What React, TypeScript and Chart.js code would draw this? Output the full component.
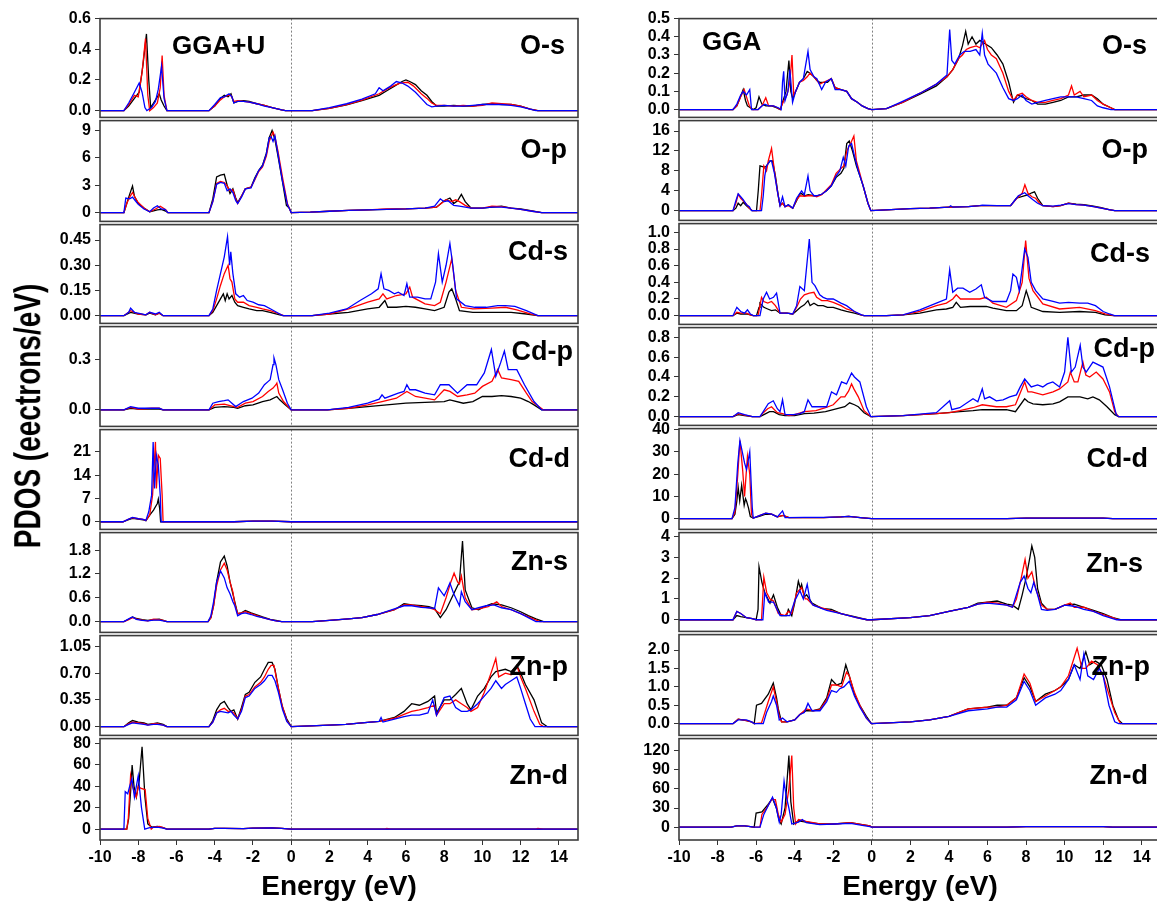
import React, { useEffect, useRef } from "react";
import { Chart, registerables } from "chart.js";
Chart.register(...registerables);

type P = [number, number];
const FONT = "'Liberation Sans', Arial, Helvetica, sans-serif";

const energyTicks = [-10, -8, -6, -4, -2, 0, 2, 4, 6, 8, 10, 12, 14];
const orbitals = ["O-s", "O-p", "Cd-s", "Cd-p", "Cd-d", "Zn-s", "Zn-p", "Zn-d"];
const methods = ["GGA+U", "GGA"];

// ---------------- y tick labels ----------------
const L_ticks = [
  [0, 0.2, 0.4, 0.6],
  [0, 3, 6, 9],
  [0, 0.15, 0.3, 0.45],
  [0, 0.3],
  [0, 7, 14, 21],
  [0, 0.6, 1.2, 1.8],
  [0, 0.35, 0.7, 1.05],
  [0, 20, 40, 60, 80],
];
const L_dec = [1, 0, 2, 1, 0, 1, 2, 0];
const R_ticks = [
  [0, 0.1, 0.2, 0.3, 0.4, 0.5],
  [0, 4, 8, 12, 16],
  [0, 0.2, 0.4, 0.6, 0.8, 1.0],
  [0, 0.2, 0.4, 0.6, 0.8],
  [0, 10, 20, 30, 40],
  [0, 1, 2, 3, 4],
  [0, 0.5, 1.0, 1.5, 2.0],
  [0, 30, 60, 90, 120],
];
const R_dec = [1, 0, 1, 1, 0, 0, 1, 0];

// ---------------- GGA+U (left) ----------------
const L_Os_k: P[] = [[-10,0],[-8.75,0],[-8.5,0.03],[-8.2,0.08],[-7.95,0.12],[-7.75,0.3],[-7.57,0.5],[-7.45,0.2],[-7.35,0.02],[-7.2,0.05],[-7.0,0.09],[-6.9,0.11],[-6.8,0.07],[-6.65,0.03],[-6.5,0],[-4.3,0],[-4.0,0.03],[-3.7,0.08],[-3.5,0.1],[-3.3,0.09],[-3.15,0.11],[-3.0,0.05],[-2.8,0.06],[-2.5,0.065],[-2.2,0.06],[-1.8,0.045],[-1.4,0.035],[-1.0,0.02],[-0.5,0.005],[-0.3,0],[1.1,0],[2.0,0.015],[2.9,0.038],[3.7,0.065],[4.6,0.1],[5.0,0.13],[5.4,0.16],[5.8,0.19],[6.0,0.2],[6.2,0.19],[6.5,0.17],[6.8,0.13],[7.1,0.1],[7.35,0.06],[7.6,0.03],[8.0,0.03],[8.5,0.035],[9.0,0.03],[9.5,0.03],[10.0,0.04],[10.6,0.045],[11.0,0.04],[11.5,0.04],[12.0,0.03],[12.5,0.01],[12.9,0],[15,0]];
const L_Os_r: P[] = [[-10,0],[-8.75,0],[-8.5,0.04],[-8.2,0.1],[-8.0,0.09],[-7.8,0.25],[-7.62,0.47],[-7.5,0.1],[-7.4,0],[-7.2,0.02],[-7.0,0.05],[-6.85,0.15],[-6.75,0.36],[-6.65,0.1],[-6.5,0],[-4.3,0],[-4.0,0.03],[-3.7,0.07],[-3.5,0.09],[-3.3,0.1],[-3.15,0.1],[-3.0,0.06],[-2.8,0.065],[-2.5,0.06],[-2.2,0.055],[-1.8,0.045],[-1.4,0.035],[-1.0,0.02],[-0.5,0.005],[-0.3,0],[1.1,0],[2.0,0.015],[2.9,0.04],[3.7,0.068],[4.6,0.11],[5.0,0.14],[5.4,0.165],[5.7,0.18],[6.1,0.185],[6.4,0.16],[6.8,0.11],[7.1,0.08],[7.35,0.05],[7.6,0.035],[8.0,0.035],[8.5,0.03],[9.0,0.035],[9.5,0.03],[10.0,0.035],[10.5,0.05],[11.0,0.045],[11.5,0.04],[12.0,0.03],[12.5,0.01],[12.9,0],[15,0]];
const L_Os_b: P[] = [[-10,0],[-8.75,0],[-8.5,0.05],[-8.2,0.12],[-7.95,0.18],[-7.8,0.12],[-7.65,0.02],[-7.55,0],[-7.3,0.02],[-7.1,0.06],[-6.95,0.14],[-6.78,0.29],[-6.65,0.08],[-6.5,0],[-4.3,0],[-4.0,0.04],[-3.7,0.085],[-3.5,0.09],[-3.25,0.11],[-3.1,0.09],[-3.0,0.05],[-2.8,0.06],[-2.5,0.06],[-2.2,0.055],[-1.8,0.045],[-1.4,0.03],[-1.0,0.02],[-0.5,0.005],[-0.3,0],[1.1,0],[2.0,0.02],[2.9,0.045],[3.7,0.075],[4.4,0.11],[4.6,0.15],[4.8,0.13],[5.2,0.16],[5.5,0.19],[5.8,0.18],[6.1,0.16],[6.5,0.12],[6.8,0.08],[7.1,0.04],[7.35,0.025],[7.6,0.03],[8.0,0.035],[8.5,0.03],[9.0,0.03],[9.5,0.035],[10.0,0.04],[10.5,0.04],[11.0,0.04],[11.5,0.035],[12.0,0.025],[12.5,0.01],[12.8,0],[15,0]];

const L_Op_k: P[] = [[-10,0],[-8.75,0],[-8.6,1.0],[-8.45,2.0],[-8.3,2.9],[-8.2,1.8],[-8.0,1.0],[-7.7,0.5],[-7.4,0.1],[-7.2,0.2],[-7.0,0.3],[-6.8,0.35],[-6.6,0.2],[-6.45,0],[-4.3,0],[-4.1,1.5],[-3.9,3.9],[-3.7,4.1],[-3.5,4.2],[-3.35,3.0],[-3.2,2.1],[-3.05,2.6],[-2.9,1.6],[-2.8,1.1],[-2.6,1.8],[-2.4,2.6],[-2.1,2.8],[-1.9,3.8],[-1.7,4.6],[-1.5,5.2],[-1.3,6.5],[-1.15,8.2],[-1.0,9.0],[-0.85,8.0],[-0.7,6.3],[-0.45,3.3],[-0.25,0.8],[-0.1,0.5],[0,0],[1,0.05],[2,0.15],[3,0.25],[4,0.3],[5,0.35],[6,0.4],[7,0.5],[7.6,0.6],[8.0,1.3],[8.3,1.6],[8.5,1.0],[8.7,1.3],[8.9,2.0],[9.1,1.2],[9.4,0.5],[10.0,0.5],[10.5,0.6],[11.0,0.7],[11.5,0.5],[12.0,0.4],[12.6,0.2],[13.1,0],[15,0]];
const L_Op_r: P[] = [[-10,0],[-8.75,0],[-8.6,1.0],[-8.45,1.7],[-8.3,2.2],[-8.15,1.6],[-8.0,1.1],[-7.7,0.5],[-7.4,0.1],[-7.1,0.4],[-6.85,0.7],[-6.7,0.5],[-6.55,0.3],[-6.45,0],[-4.3,0],[-4.1,1.2],[-3.9,3.2],[-3.7,3.4],[-3.5,3.3],[-3.35,2.9],[-3.2,2.4],[-3.05,2.5],[-2.9,1.5],[-2.8,1.0],[-2.6,1.8],[-2.4,2.6],[-2.1,2.8],[-1.9,3.6],[-1.7,4.5],[-1.5,5.0],[-1.3,6.2],[-1.15,7.8],[-0.95,8.8],[-0.85,8.3],[-0.7,6.8],[-0.45,3.8],[-0.2,1.0],[0,0],[1,0.05],[2,0.15],[3,0.25],[4,0.3],[5,0.4],[6,0.4],[7,0.5],[7.6,0.6],[8.1,1.4],[8.4,1.2],[8.6,1.4],[8.8,1.2],[9.1,0.8],[9.4,0.5],[10.0,0.5],[10.5,0.7],[11.0,0.65],[11.5,0.5],[12.0,0.35],[12.6,0.15],[13.1,0],[15,0]];
const L_Op_b: P[] = [[-10,0],[-8.75,0],[-8.65,1.6],[-8.45,1.5],[-8.3,1.7],[-8.15,1.3],[-8.0,0.9],[-7.7,0.4],[-7.4,0.1],[-7.2,0.5],[-7.0,0.75],[-6.8,0.4],[-6.6,0.35],[-6.45,0],[-4.3,0],[-4.1,1.2],[-3.9,3.1],[-3.7,3.3],[-3.5,3.2],[-3.35,2.4],[-3.2,2.6],[-3.05,2.2],[-2.9,1.3],[-2.8,1.0],[-2.6,1.7],[-2.4,2.6],[-2.1,2.7],[-1.9,3.7],[-1.7,4.6],[-1.5,5.1],[-1.3,6.4],[-1.15,8.2],[-1.05,8.3],[-0.95,7.8],[-0.85,8.4],[-0.7,6.5],[-0.45,3.4],[-0.2,0.9],[0,0],[1,0.05],[2,0.15],[3,0.25],[4,0.3],[5,0.35],[6,0.4],[7,0.5],[7.5,0.7],[7.8,1.5],[8.0,1.2],[8.2,1.3],[8.5,0.8],[8.8,0.7],[9.1,0.6],[9.4,0.5],[10.0,0.5],[10.5,0.6],[11.0,0.6],[11.5,0.5],[12.0,0.35],[12.6,0.15],[13.1,0],[15,0]];

const L_Cds_k: P[] = [[-10,0],[-8.75,0],[-8.4,0.02],[-8.0,0.01],[-7.6,0.005],[-7.4,0.015],[-7.1,0.005],[-6.9,0.015],[-6.7,0],[-4.3,0],[-4.1,0.02],[-3.9,0.06],[-3.7,0.1],[-3.55,0.13],[-3.45,0.09],[-3.35,0.13],[-3.25,0.1],[-3.1,0.12],[-2.95,0.08],[-2.8,0.06],[-2.5,0.05],[-2.2,0.04],[-1.8,0.03],[-1.5,0.03],[-1.1,0.02],[-0.6,0.005],[-0.4,0],[1.1,0],[2,0.01],[3,0.02],[4,0.04],[4.6,0.05],[4.9,0.09],[5.05,0.05],[5.5,0.05],[6.0,0.055],[6.5,0.05],[7.0,0.04],[7.5,0.03],[8.0,0.05],[8.25,0.14],[8.4,0.16],[8.6,0.1],[8.8,0.03],[9.5,0.02],[10.5,0.02],[11.5,0.02],[12.3,0.01],[12.9,0],[15,0]];
const L_Cds_r: P[] = [[-10,0],[-8.75,0],[-8.4,0.03],[-8.0,0.01],[-7.6,0.005],[-7.4,0.02],[-7.1,0.005],[-6.9,0.015],[-6.7,0],[-4.3,0],[-4.1,0.03],[-3.9,0.1],[-3.7,0.18],[-3.5,0.25],[-3.3,0.3],[-3.2,0.22],[-3.1,0.2],[-2.95,0.1],[-2.8,0.08],[-2.5,0.08],[-2.2,0.06],[-1.8,0.05],[-1.5,0.04],[-1.1,0.03],[-0.6,0.01],[-0.4,0],[1.1,0],[2,0.01],[3,0.04],[4,0.08],[4.6,0.1],[4.8,0.13],[5.0,0.1],[5.5,0.12],[6.0,0.13],[6.2,0.17],[6.35,0.11],[7.0,0.07],[7.5,0.06],[7.8,0.08],[8.1,0.2],[8.4,0.34],[8.6,0.15],[8.9,0.05],[9.5,0.04],[10.5,0.045],[11.2,0.05],[11.8,0.035],[12.5,0.01],[12.9,0],[15,0]];
const L_Cds_b: P[] = [[-10,0],[-8.75,0],[-8.5,0.02],[-8.4,0.045],[-8.2,0.02],[-7.6,0.005],[-7.4,0.02],[-7.1,0.01],[-6.9,0.02],[-6.7,0],[-4.3,0],[-4.1,0.04],[-3.9,0.15],[-3.7,0.25],[-3.5,0.35],[-3.33,0.47],[-3.22,0.3],[-3.16,0.38],[-3.05,0.25],[-2.9,0.13],[-2.7,0.11],[-2.5,0.12],[-2.3,0.09],[-2.0,0.08],[-1.7,0.065],[-1.4,0.06],[-1.0,0.035],[-0.6,0.01],[-0.45,0],[1.1,0],[2,0.015],[2.9,0.04],[3.6,0.09],[4.2,0.13],[4.55,0.16],[4.7,0.25],[4.85,0.16],[5.1,0.15],[5.4,0.13],[5.6,0.14],[5.9,0.12],[6.05,0.19],[6.2,0.11],[6.6,0.11],[7.0,0.1],[7.3,0.1],[7.55,0.2],[7.7,0.37],[7.9,0.2],[8.1,0.3],[8.3,0.43],[8.45,0.3],[8.65,0.1],[9.1,0.06],[9.6,0.05],[10.2,0.05],[10.8,0.06],[11.2,0.06],[11.7,0.055],[12.3,0.03],[12.9,0],[15,0]];

const L_Cdp_k: P[] = [[-10,0],[-8.75,0],[-8.4,0.01],[-8.0,0.005],[-7.3,0.005],[-6.9,0.005],[-6.7,0],[-4.3,0],[-4.0,0.015],[-3.5,0.02],[-3.0,0.015],[-2.8,0.01],[-2.4,0.025],[-2.0,0.03],[-1.5,0.05],[-1.1,0.06],[-0.75,0.08],[-0.6,0.06],[-0.3,0.03],[0,0],[1.9,0],[3,0.01],[4,0.02],[5,0.03],[6,0.04],[7,0.045],[8,0.05],[8.3,0.06],[9,0.04],[9.5,0.05],[10,0.08],[10.5,0.08],[11,0.085],[11.5,0.08],[12,0.07],[12.4,0.05],[12.7,0.03],[13.1,0],[15,0]];
const L_Cdp_r: P[] = [[-10,0],[-8.75,0],[-8.4,0.015],[-8.0,0.005],[-7.3,0.01],[-6.9,0.01],[-6.7,0],[-4.3,0],[-4.0,0.03],[-3.5,0.035],[-3.0,0.02],[-2.8,0.015],[-2.4,0.04],[-2.0,0.05],[-1.5,0.08],[-1.2,0.11],[-0.95,0.13],[-0.8,0.15],[-0.75,0.16],[-0.65,0.1],[-0.4,0.05],[0,0],[1.9,0],[3,0.01],[4,0.03],[4.75,0.05],[5.5,0.07],[6.05,0.11],[6.5,0.08],[7.5,0.06],[8.0,0.12],[8.3,0.11],[8.7,0.08],[9.2,0.09],[9.6,0.1],[10.0,0.14],[10.5,0.17],[10.8,0.24],[11.0,0.19],[11.5,0.18],[11.9,0.17],[12.3,0.1],[12.6,0.05],[13.2,0],[15,0]];
const L_Cdp_b: P[] = [[-10,0],[-8.75,0],[-8.4,0.02],[-8.0,0.01],[-7.3,0.01],[-6.9,0.01],[-6.7,0],[-4.3,0],[-4.1,0.04],[-3.8,0.05],[-3.5,0.055],[-3.3,0.06],[-3.1,0.04],[-2.9,0.02],[-2.5,0.05],[-2.05,0.07],[-1.7,0.1],[-1.4,0.15],[-1.2,0.17],[-1.1,0.18],[-0.95,0.27],[-0.9,0.31],[-0.8,0.27],[-0.65,0.18],[-0.45,0.12],[-0.2,0.04],[0,0],[1.9,0],[3,0.015],[4,0.04],[4.6,0.064],[4.75,0.09],[4.9,0.07],[5.6,0.1],[5.9,0.11],[6.05,0.15],[6.2,0.12],[6.5,0.12],[7.0,0.1],[7.5,0.09],[7.8,0.15],[8.25,0.15],[8.7,0.1],[9.2,0.15],[9.7,0.15],[10.1,0.22],[10.47,0.36],[10.7,0.2],[10.95,0.28],[11.15,0.35],[11.35,0.24],[11.8,0.24],[12.2,0.15],[12.7,0.05],[13.1,0],[15,0]];

const L_Cdd_k: P[] = [[-10,0],[-8.8,0],[-8.5,0.6],[-8.3,1.0],[-8.0,0.8],[-7.75,0.6],[-7.6,0.3],[-7.4,2.0],[-7.2,3.5],[-7.1,4.5],[-7.0,5.5],[-6.95,6.8],[-6.88,4.0],[-6.83,0],[-3,0],[-2,0.2],[-1,0.2],[0,0],[15,0]];
const L_Cdd_r: P[] = [[-10,0],[-8.8,0],[-8.5,0.8],[-8.3,1.2],[-8.0,0.9],[-7.75,0.7],[-7.6,0.4],[-7.4,2.0],[-7.25,8],[-7.1,24],[-7.05,10],[-7.0,15],[-6.95,20],[-6.85,19],[-6.75,8],[-6.7,0],[-3,0],[-2,0.2],[-1,0.2],[0,0],[15,0]];
const L_Cdd_b: P[] = [[-10,0],[-8.8,0],[-8.5,0.8],[-8.3,1.3],[-8.0,0.9],[-7.75,0.7],[-7.6,0.4],[-7.45,3],[-7.3,8],[-7.22,24],[-7.15,10],[-7.05,20],[-6.95,17],[-6.85,8],[-6.8,0],[-3,0],[-2,0.2],[-1,0.2],[0,0],[15,0]];

const L_Zns_k: P[] = [[-10,0],[-8.75,0],[-8.5,0.06],[-8.3,0.12],[-8.1,0.08],[-7.8,0.05],[-7.5,0.03],[-7.2,0.05],[-6.9,0.06],[-6.7,0.03],[-6.5,0],[-4.35,0],[-4.2,0.1],[-4.06,0.4],[-3.9,1.0],[-3.7,1.5],[-3.5,1.65],[-3.35,1.4],[-3.2,1.0],[-3.05,0.7],[-2.95,0.5],[-2.8,0.2],[-2.6,0.22],[-2.4,0.28],[-2.1,0.22],[-1.8,0.17],[-1.5,0.12],[-1.1,0.06],[-0.8,0.03],[-0.5,0],[1.1,0],[2,0.03],[3,0.07],[3.7,0.1],[4.5,0.18],[5.4,0.3],[5.9,0.45],[6.3,0.42],[6.8,0.4],[7.2,0.38],[7.5,0.33],[7.8,0.1],[8.1,0.3],[8.4,0.6],[8.8,1.0],[8.96,2.03],[9.1,0.8],[9.45,0.35],[9.8,0.3],[10.2,0.4],[10.5,0.45],[11.0,0.42],[11.5,0.35],[12.0,0.25],[12.4,0.15],[12.8,0.07],[13.2,0],[15,0]];
const L_Zns_r: P[] = [[-10,0],[-8.75,0],[-8.5,0.05],[-8.3,0.1],[-8.1,0.07],[-7.8,0.04],[-7.5,0.02],[-7.2,0.06],[-6.9,0.05],[-6.7,0.03],[-6.5,0],[-4.35,0],[-4.2,0.1],[-4.06,0.4],[-3.9,0.9],[-3.7,1.3],[-3.5,1.47],[-3.35,1.3],[-3.2,1.0],[-3.05,0.75],[-2.95,0.45],[-2.8,0.2],[-2.6,0.22],[-2.4,0.25],[-2.1,0.2],[-1.8,0.15],[-1.5,0.1],[-1.1,0.05],[-0.8,0.02],[-0.5,0],[1.1,0],[2,0.03],[3,0.07],[3.7,0.1],[4.5,0.18],[5.4,0.3],[5.9,0.42],[6.3,0.42],[6.8,0.38],[7.2,0.35],[7.5,0.3],[7.8,0.2],[8.1,0.6],[8.35,1.0],[8.52,1.22],[8.7,1.0],[8.8,0.95],[8.9,1.15],[9.1,0.6],[9.45,0.3],[9.8,0.32],[10.3,0.38],[10.75,0.5],[11.0,0.38],[11.5,0.3],[12.0,0.2],[12.5,0.1],[13.0,0],[15,0]];
const L_Zns_b: P[] = [[-10,0],[-8.75,0],[-8.5,0.07],[-8.3,0.12],[-8.1,0.06],[-7.8,0.03],[-7.5,0.02],[-7.2,0.04],[-6.9,0.04],[-6.7,0.02],[-6.5,0],[-4.35,0],[-4.2,0.15],[-4.06,0.5],[-3.9,1.0],[-3.7,1.28],[-3.5,1.1],[-3.35,0.85],[-3.2,0.7],[-3.05,0.5],[-2.95,0.4],[-2.8,0.15],[-2.6,0.2],[-2.4,0.22],[-2.1,0.18],[-1.8,0.13],[-1.5,0.1],[-1.1,0.05],[-0.8,0.02],[-0.5,0],[1.1,0],[2,0.03],[3,0.07],[3.7,0.1],[4.5,0.18],[5.4,0.32],[5.9,0.4],[6.3,0.4],[6.8,0.36],[7.2,0.35],[7.5,0.33],[7.7,0.85],[8.0,0.65],[8.15,0.8],[8.3,0.97],[8.5,0.7],[8.8,0.4],[8.9,0.75],[9.1,0.5],[9.45,0.3],[9.8,0.35],[10.2,0.4],[10.6,0.42],[11.0,0.35],[11.5,0.3],[12.0,0.2],[12.4,0.1],[12.8,0],[15,0]];

const L_Znp_k: P[] = [[-10,0],[-8.75,0],[-8.5,0.05],[-8.3,0.08],[-8.0,0.06],[-7.7,0.05],[-7.5,0.03],[-7.2,0.04],[-7.0,0.05],[-6.7,0.03],[-6.5,0],[-4.3,0],[-4.1,0.08],[-3.9,0.22],[-3.7,0.3],[-3.5,0.33],[-3.3,0.25],[-3.15,0.2],[-3.0,0.22],[-2.8,0.1],[-2.6,0.25],[-2.4,0.42],[-2.2,0.45],[-1.9,0.58],[-1.6,0.65],[-1.4,0.75],[-1.2,0.84],[-1.0,0.84],[-0.85,0.75],[-0.67,0.5],[-0.45,0.25],[-0.23,0.1],[0,0],[1,0.01],[2,0.02],[2.86,0.03],[3.7,0.05],[4.6,0.07],[5.4,0.12],[5.9,0.2],[6.3,0.3],[6.7,0.28],[7.15,0.33],[7.5,0.4],[7.6,0.18],[8.0,0.35],[8.3,0.35],[8.6,0.42],[8.9,0.5],[9.2,0.3],[9.4,0.22],[9.75,0.4],[10.1,0.5],[10.45,0.65],[10.7,0.72],[11.2,0.75],[11.5,0.72],[11.8,0.8],[12.0,0.7],[12.25,0.55],[12.7,0.35],[13.1,0.05],[13.4,0],[15,0]];
const L_Znp_r: P[] = [[-10,0],[-8.75,0],[-8.5,0.04],[-8.3,0.06],[-8.0,0.05],[-7.7,0.04],[-7.5,0.02],[-7.2,0.04],[-7.0,0.04],[-6.7,0.02],[-6.5,0],[-4.3,0],[-4.1,0.06],[-3.9,0.18],[-3.7,0.22],[-3.5,0.24],[-3.3,0.2],[-3.15,0.2],[-3.0,0.18],[-2.8,0.1],[-2.6,0.22],[-2.4,0.4],[-2.2,0.42],[-1.9,0.52],[-1.6,0.58],[-1.4,0.65],[-1.2,0.75],[-1.05,0.8],[-0.9,0.8],[-0.75,0.6],[-0.5,0.3],[-0.23,0.08],[0,0],[1,0.01],[2,0.02],[2.86,0.03],[3.7,0.05],[4.6,0.07],[5.4,0.11],[5.9,0.16],[6.3,0.2],[6.7,0.22],[7.15,0.25],[7.5,0.28],[7.6,0.15],[8.0,0.3],[8.3,0.3],[8.6,0.35],[8.9,0.3],[9.2,0.25],[9.4,0.2],[9.75,0.25],[10.1,0.45],[10.45,0.7],[10.7,0.89],[10.85,0.65],[11.2,0.7],[11.5,0.68],[11.8,0.8],[12.0,0.65],[12.25,0.5],[12.7,0.2],[13.0,0.03],[13.2,0],[15,0]];
const L_Znp_b: P[] = [[-10,0],[-8.75,0],[-8.5,0.03],[-8.3,0.05],[-8.0,0.04],[-7.7,0.03],[-7.5,0.02],[-7.2,0.03],[-7.0,0.03],[-6.7,0.02],[-6.5,0],[-4.3,0],[-4.1,0.06],[-3.9,0.18],[-3.7,0.2],[-3.5,0.19],[-3.3,0.18],[-3.15,0.2],[-3.0,0.15],[-2.8,0.1],[-2.6,0.2],[-2.4,0.38],[-2.2,0.4],[-1.9,0.5],[-1.6,0.55],[-1.4,0.6],[-1.2,0.67],[-1.0,0.67],[-0.85,0.6],[-0.67,0.45],[-0.45,0.22],[-0.23,0.07],[0,0],[1,0.01],[2,0.02],[2.86,0.03],[3.7,0.05],[4.6,0.07],[4.7,0.12],[4.8,0.06],[5.4,0.1],[5.9,0.13],[6.3,0.15],[6.7,0.15],[7.15,0.18],[7.4,0.35],[7.6,0.15],[8.0,0.38],[8.3,0.4],[8.6,0.25],[8.9,0.2],[9.2,0.2],[9.4,0.22],[9.75,0.3],[10.1,0.4],[10.45,0.5],[10.7,0.6],[11.0,0.5],[11.2,0.55],[11.5,0.6],[11.8,0.65],[12.0,0.5],[12.25,0.3],[12.5,0.1],[12.75,0],[15,0]];

const L_Znd_k: P[] = [[-10,0],[-8.6,0],[-8.5,10],[-8.4,35],[-8.32,60],[-8.22,40],[-8.1,30],[-7.95,45],[-7.8,77],[-7.65,30],[-7.5,5],[-7.3,2],[-7.0,2.5],[-6.7,1.5],[-6.5,0],[-4.3,0],[-4.0,0.8],[-3.5,0.8],[-2.5,0.5],[-2,1],[-1,1.2],[-0.5,0.8],[0,0],[15,0]];
const L_Znd_r: P[] = [[-10,0],[-8.6,0],[-8.52,10],[-8.4,50],[-8.3,40],[-8.18,33],[-8.1,30],[-8.0,40],[-7.85,38],[-7.64,37],[-7.5,10],[-7.32,0],[-7.2,2],[-6.9,2.5],[-6.7,1.5],[-6.5,0],[-4.3,0],[-4.0,0.8],[-3.5,0.8],[-2.5,0.5],[-2,1],[-1,1.2],[-0.5,0.8],[0,0],[4.9,0],[5.0,0.8],[5.2,0],[12.8,0],[12.9,0.8],[13.2,0],[15,0]];
const L_Znd_b: P[] = [[-10,0],[-8.75,0],[-8.68,35],[-8.55,33],[-8.45,40],[-8.33,47],[-8.2,30],[-8.1,40],[-8.0,50],[-7.83,20],[-7.66,0],[-7.4,1.5],[-7.0,2],[-6.7,1],[-6.5,0],[-4.3,0],[-4.0,0.8],[-3.5,0.8],[-2.5,0.5],[-2,1],[-1,1.2],[-0.5,0.8],[0,0],[15,0]];

// ---------------- GGA (right) ----------------
const R_Os_k: P[] = [[-10,0],[-7.2,0],[-7.0,0.02],[-6.85,0.06],[-6.67,0.11],[-6.55,0.05],[-6.45,0.02],[-6.3,0.01],[-6.15,0],[-6.0,0.01],[-5.85,0.07],[-5.7,0.03],[-5.5,0.02],[-5.2,0.02],[-4.95,0.01],[-4.75,0],[-4.6,0.05],[-4.45,0.1],[-4.3,0.27],[-4.2,0.1],[-4.1,0.06],[-3.95,0.1],[-3.75,0.15],[-3.55,0.17],[-3.35,0.21],[-3.2,0.2],[-3.0,0.18],[-2.85,0.16],[-2.7,0.15],[-2.5,0.15],[-2.3,0.15],[-2.1,0.17],[-1.9,0.12],[-1.6,0.11],[-1.3,0.1],[-1.05,0.06],[-0.75,0.04],[-0.5,0.02],[-0.2,0.005],[0,0],[0.76,0.005],[1.6,0.04],[2.5,0.085],[3.35,0.13],[3.9,0.18],[4.2,0.22],[4.5,0.28],[4.7,0.35],[4.87,0.43],[5.0,0.36],[5.2,0.4],[5.4,0.36],[5.6,0.38],[5.9,0.36],[6.2,0.34],[6.5,0.3],[6.8,0.25],[7.1,0.15],[7.35,0.04],[7.55,0.08],[7.8,0.07],[8.0,0.06],[8.3,0.05],[8.6,0.03],[9.0,0.03],[9.4,0.04],[9.8,0.05],[10.2,0.07],[10.6,0.07],[11.0,0.08],[11.4,0.08],[11.7,0.06],[12.0,0.03],[12.4,0.01],[12.6,0],[15,0]];
const R_Os_r: P[] = [[-10,0],[-7.2,0],[-7.0,0.02],[-6.8,0.07],[-6.62,0.11],[-6.5,0.07],[-6.35,0.02],[-6.2,0],[-5.9,0],[-5.7,0.02],[-5.5,0.065],[-5.35,0.02],[-5.1,0.02],[-4.9,0.01],[-4.75,0],[-4.6,0.04],[-4.4,0.08],[-4.25,0.15],[-4.14,0.3],[-4.05,0.08],[-3.95,0.1],[-3.75,0.15],[-3.55,0.16],[-3.35,0.18],[-3.21,0.2],[-3.0,0.18],[-2.85,0.16],[-2.7,0.14],[-2.5,0.15],[-2.3,0.16],[-2.1,0.17],[-1.9,0.12],[-1.6,0.11],[-1.3,0.1],[-1.05,0.06],[-0.75,0.04],[-0.5,0.02],[-0.2,0.005],[0,0],[0.76,0.005],[1.6,0.04],[2.5,0.09],[3.35,0.14],[3.9,0.18],[4.2,0.22],[4.5,0.28],[4.7,0.3],[4.9,0.33],[5.1,0.34],[5.42,0.35],[5.6,0.34],[5.85,0.38],[6.0,0.33],[6.2,0.3],[6.46,0.28],[6.8,0.2],[7.1,0.1],[7.35,0.05],[7.55,0.08],[7.8,0.09],[8.0,0.07],[8.3,0.05],[8.6,0.04],[9.0,0.04],[9.4,0.05],[9.8,0.06],[10.2,0.08],[10.36,0.13],[10.5,0.08],[10.8,0.1],[11.0,0.07],[11.4,0.08],[11.7,0.05],[12.0,0.03],[12.4,0.01],[12.6,0],[15,0]];
const R_Os_b: P[] = [[-10,0],[-7.2,0],[-7.0,0.03],[-6.8,0.08],[-6.67,0.1],[-6.5,0.08],[-6.33,0.11],[-6.24,0],[-5.9,0],[-5.7,0.02],[-5.55,0.03],[-5.35,0.02],[-5.1,0.02],[-4.85,0.01],[-4.7,0],[-4.63,0.15],[-4.57,0.21],[-4.5,0.05],[-4.35,0.1],[-4.25,0.22],[-4.11,0.04],[-3.95,0.1],[-3.75,0.15],[-3.55,0.17],[-3.31,0.32],[-3.2,0.22],[-3.0,0.18],[-2.85,0.17],[-2.6,0.11],[-2.4,0.15],[-2.1,0.17],[-1.9,0.11],[-1.6,0.11],[-1.3,0.1],[-1.05,0.06],[-0.75,0.04],[-0.5,0.02],[-0.2,0.005],[0,0],[0.76,0.005],[1.6,0.045],[2.5,0.09],[3.35,0.14],[3.9,0.19],[4.04,0.44],[4.15,0.27],[4.3,0.25],[4.56,0.3],[4.8,0.32],[5.1,0.32],[5.4,0.33],[5.6,0.3],[5.73,0.42],[5.85,0.3],[6.03,0.25],[6.46,0.2],[6.8,0.12],[7.1,0.06],[7.35,0.05],[7.55,0.06],[7.8,0.08],[8.0,0.05],[8.3,0.03],[8.6,0.04],[9.0,0.05],[9.4,0.06],[9.8,0.07],[10.2,0.07],[10.6,0.07],[11.0,0.06],[11.4,0.05],[11.7,0.02],[12.0,0.01],[12.4,0],[15,0]];

const R_Op_k: P[] = [[-10,0],[-7.2,0],[-7.05,0.5],[-6.93,1.5],[-6.8,1.0],[-6.67,1.7],[-6.5,1.0],[-6.35,0.5],[-6.2,0],[-5.98,0],[-5.89,4],[-5.8,9],[-5.63,8.8],[-5.5,8.8],[-5.28,10],[-5.15,10],[-5.0,7],[-4.85,3],[-4.76,1],[-4.63,1.5],[-4.5,0.8],[-4.33,1.2],[-4.1,0.5],[-3.9,2],[-3.73,3.4],[-3.64,3.4],[-3.5,3.0],[-3.3,3.2],[-3.0,3.0],[-2.86,3.0],[-2.6,3.3],[-2.35,4.0],[-2.1,5.0],[-1.85,6.7],[-1.6,7.5],[-1.45,8.5],[-1.3,13.5],[-1.17,14],[-1.0,12],[-0.8,9],[-0.62,7],[-0.45,5],[-0.2,1.5],[-0.05,0],[1,0.2],[2,0.4],[3,0.5],[4,0.7],[5,0.8],[5.6,1.0],[6.5,1.0],[7.2,1.0],[7.5,2.5],[7.9,3.0],[8.1,3.2],[8.3,3.6],[8.44,3.8],[8.6,2.5],[8.87,1.0],[9.4,0.8],[9.8,1.0],[10.2,1.5],[10.6,1.3],[11.0,1.2],[11.5,0.9],[11.9,0.6],[12.3,0.2],[12.6,0],[15,0]];
const R_Op_r: P[] = [[-10,0],[-7.2,0],[-7.05,1.5],[-6.93,3.3],[-6.8,2.5],[-6.67,2.0],[-6.5,1.3],[-6.35,0.5],[-6.2,0],[-5.8,0],[-5.72,3],[-5.6,9],[-5.46,8],[-5.37,10],[-5.2,12.5],[-5.05,8],[-4.9,4],[-4.76,1],[-4.63,1.5],[-4.5,0.8],[-4.33,1.0],[-4.1,0.5],[-3.9,2.2],[-3.73,3.0],[-3.5,2.9],[-3.31,3.0],[-3.0,3.0],[-2.86,2.8],[-2.6,3.2],[-2.35,4.2],[-2.1,5.2],[-1.85,7.5],[-1.6,8.5],[-1.45,9.0],[-1.3,12],[-1.1,13.5],[-0.93,15],[-0.8,10],[-0.62,7.5],[-0.45,5],[-0.2,1.5],[-0.05,0],[1,0.2],[2,0.4],[3,0.5],[4,0.7],[5,0.8],[5.6,1.0],[6.5,1.0],[7.2,1.0],[7.5,2.4],[7.8,3.5],[7.94,5.2],[8.1,3.5],[8.3,2.8],[8.5,2.5],[8.7,1.5],[8.87,1.0],[9.4,0.8],[9.8,1.0],[10.2,1.5],[10.6,1.2],[11.0,1.1],[11.5,0.8],[11.9,0.5],[12.3,0.2],[12.6,0],[15,0]];
const R_Op_b: P[] = [[-10,0],[-7.2,0],[-7.05,2],[-6.93,3.4],[-6.8,2.8],[-6.67,2.2],[-6.5,1.2],[-6.35,0.8],[-6.24,0],[-5.72,0],[-5.63,3],[-5.55,7],[-5.46,9],[-5.28,10],[-5.2,10],[-5.05,7.5],[-4.9,4],[-4.76,1],[-4.63,2.8],[-4.5,0.8],[-4.33,1.2],[-4.1,0.5],[-3.9,2.5],[-3.73,3.5],[-3.64,4.0],[-3.5,3.2],[-3.31,7.0],[-3.2,4.0],[-3.0,3.0],[-2.86,3.0],[-2.6,3.3],[-2.35,4.0],[-2.1,5.0],[-1.85,7.0],[-1.66,8.0],[-1.48,10.7],[-1.35,9],[-1.2,13],[-1.05,13.5],[-0.9,11],[-0.7,8],[-0.45,5],[-0.2,1.5],[-0.05,0],[1,0.2],[2,0.4],[3,0.5],[4.0,0.7],[4.09,1.0],[4.2,0.7],[5,0.8],[5.6,1.0],[5.73,1.1],[6.5,1.0],[7.2,1.0],[7.4,2.0],[7.6,3.0],[7.93,3.6],[8.1,3.0],[8.36,2.2],[8.6,1.5],[8.87,1.0],[9.4,0.9],[9.8,1.1],[10.2,1.4],[10.6,1.2],[11.0,1.1],[11.5,0.8],[11.9,0.5],[12.3,0.2],[12.6,0],[15,0]];

const R_Cds_k: P[] = [[-10,0],[-7.2,0],[-7.0,0.03],[-6.8,0.02],[-6.5,0.02],[-6.3,0.01],[-6.15,0],[-5.98,0],[-5.85,0.1],[-5.8,0.15],[-5.6,0.1],[-5.4,0.08],[-5.2,0.06],[-5.0,0.07],[-4.76,0.03],[-4.4,0.03],[-4.1,0.02],[-3.9,0.06],[-3.7,0.1],[-3.5,0.13],[-3.31,0.18],[-3.2,0.12],[-3.0,0.15],[-2.8,0.12],[-2.52,0.12],[-2.3,0.1],[-2.0,0.1],[-1.6,0.07],[-1.31,0.05],[-0.9,0.03],[-0.53,0.005],[-0.4,0],[0.76,0],[1.62,0.01],[2.49,0.03],[3.35,0.07],[3.87,0.08],[4.2,0.1],[4.38,0.16],[4.6,0.1],[5.1,0.11],[5.6,0.11],[5.94,0.11],[6.28,0.09],[6.98,0.06],[7.5,0.06],[7.8,0.12],[8.01,0.3],[8.15,0.2],[8.27,0.1],[8.87,0.05],[9.74,0.04],[10.78,0.05],[11.6,0.04],[12.1,0.01],[12.55,0],[15,0]];
const R_Cds_r: P[] = [[-10,0],[-7.2,0],[-7.0,0.04],[-6.8,0.03],[-6.5,0.03],[-6.3,0.01],[-6.15,0],[-5.9,0],[-5.72,0.22],[-5.6,0.17],[-5.4,0.15],[-5.2,0.17],[-5.0,0.12],[-4.76,0.03],[-4.4,0.03],[-4.1,0.02],[-3.9,0.1],[-3.7,0.2],[-3.5,0.25],[-3.24,0.27],[-3.0,0.28],[-2.86,0.22],[-2.6,0.18],[-2.3,0.18],[-2.0,0.16],[-1.6,0.12],[-1.31,0.08],[-0.9,0.05],[-0.53,0.005],[-0.4,0],[0.76,0],[1.62,0.01],[2.49,0.05],[3.35,0.12],[3.87,0.15],[4.2,0.2],[4.38,0.25],[4.6,0.2],[5.1,0.2],[5.6,0.2],[5.94,0.22],[6.28,0.15],[6.98,0.1],[7.5,0.18],[7.8,0.4],[7.98,0.9],[8.15,0.45],[8.36,0.3],[8.87,0.14],[9.74,0.08],[10.78,0.1],[11.6,0.06],[12.1,0.02],[12.55,0],[15,0]];
const R_Cds_b: P[] = [[-10,0],[-7.2,0],[-7.0,0.1],[-6.8,0.05],[-6.6,0.03],[-6.45,0.07],[-6.3,0.02],[-6.15,0],[-5.8,0],[-5.63,0.2],[-5.46,0.28],[-5.3,0.2],[-5.1,0.22],[-4.94,0.27],[-4.76,0.03],[-4.4,0.03],[-4.1,0.02],[-3.9,0.12],[-3.73,0.35],[-3.5,0.3],[-3.24,0.92],[-3.1,0.4],[-2.95,0.36],[-2.7,0.25],[-2.52,0.22],[-2.3,0.2],[-2.0,0.2],[-1.6,0.15],[-1.31,0.12],[-0.9,0.05],[-0.53,0.01],[-0.4,0],[0.76,0],[1.62,0.01],[2.49,0.07],[3.35,0.15],[3.87,0.2],[4.04,0.55],[4.2,0.28],[4.45,0.33],[4.73,0.33],[5.08,0.28],[5.4,0.32],[5.68,0.37],[5.85,0.22],[6.28,0.17],[6.98,0.17],[7.2,0.3],[7.32,0.5],[7.5,0.46],[7.65,0.3],[7.93,0.8],[8.1,0.7],[8.27,0.4],[8.5,0.3],[8.87,0.2],[9.4,0.17],[9.74,0.15],[10.2,0.16],[10.78,0.15],[11.2,0.15],[11.6,0.12],[12.0,0.05],[12.33,0.02],[12.59,0],[15,0]];

const R_Cdp_k: P[] = [[-10,0],[-7.2,0],[-6.93,0.02],[-6.6,0.01],[-6.2,0],[-5.8,0],[-5.6,0.02],[-5.3,0.05],[-5.1,0.05],[-4.8,0.02],[-4.5,0.01],[-4.0,0.01],[-3.5,0.03],[-3.0,0.035],[-2.4,0.05],[-2.0,0.07],[-1.8,0.08],[-1.4,0.1],[-1.15,0.14],[-0.9,0.12],[-0.7,0.1],[-0.4,0.04],[-0.05,0],[1.62,0.01],[3.35,0.03],[4.56,0.05],[5.25,0.06],[5.73,0.07],[6.46,0.07],[6.98,0.07],[7.45,0.05],[7.93,0.18],[8.1,0.15],[8.36,0.13],[8.87,0.12],[9.4,0.13],[9.74,0.15],[10.17,0.2],[10.5,0.2],[10.8,0.2],[11.2,0.18],[11.47,0.2],[11.8,0.17],[12.2,0.1],[12.6,0.02],[12.8,0],[15,0]];
const R_Cdp_r: P[] = [[-10,0],[-7.2,0],[-6.93,0.03],[-6.6,0.015],[-6.2,0],[-5.8,0],[-5.63,0.04],[-5.4,0.08],[-5.2,0.1],[-4.9,0.04],[-4.63,0.03],[-4.3,0.01],[-4.0,0.02],[-3.5,0.05],[-2.9,0.06],[-2.4,0.09],[-2.0,0.12],[-1.6,0.2],[-1.4,0.2],[-1.2,0.26],[-1.05,0.33],[-0.93,0.28],[-0.7,0.2],[-0.4,0.06],[-0.05,0],[1.62,0.01],[3.35,0.03],[4.04,0.04],[4.56,0.06],[5.25,0.09],[5.73,0.12],[6.46,0.1],[6.98,0.1],[7.45,0.12],[7.93,0.35],[8.1,0.25],[8.3,0.25],[8.87,0.22],[9.4,0.25],[9.74,0.28],[10.17,0.35],[10.3,0.45],[10.5,0.35],[10.69,0.35],[10.95,0.55],[11.1,0.42],[11.3,0.4],[11.64,0.45],[11.99,0.38],[12.33,0.25],[12.6,0.05],[12.8,0],[15,0]];
const R_Cdp_b: P[] = [[-10,0],[-7.2,0],[-6.93,0.04],[-6.6,0.02],[-6.2,0],[-5.8,0],[-5.63,0.05],[-5.37,0.13],[-5.11,0.16],[-4.9,0.08],[-4.76,0.05],[-4.63,0.17],[-4.5,0.02],[-4.07,0.02],[-3.73,0.03],[-3.5,0.05],[-3.31,0.17],[-3.1,0.1],[-2.86,0.1],[-2.34,0.1],[-2.09,0.25],[-1.83,0.22],[-1.57,0.35],[-1.31,0.33],[-1.05,0.44],[-0.9,0.4],[-0.62,0.35],[-0.28,0.1],[-0.05,0],[1.62,0.01],[3.35,0.04],[4.04,0.16],[4.15,0.07],[4.56,0.09],[5.25,0.18],[5.5,0.15],[5.73,0.28],[5.85,0.18],[6.11,0.2],[6.46,0.16],[6.81,0.17],[7.15,0.2],[7.5,0.22],[7.7,0.3],[7.93,0.38],[8.27,0.3],[8.6,0.32],[8.87,0.3],[9.1,0.33],[9.39,0.35],[9.74,0.3],[10.0,0.45],[10.17,0.8],[10.35,0.45],[10.55,0.5],[10.81,0.72],[10.95,0.5],[11.12,0.45],[11.47,0.55],[11.99,0.5],[12.33,0.3],[12.68,0.02],[12.8,0],[15,0]];

const R_Cdd_k: P[] = [[-10,0],[-7.25,0],[-7.1,2],[-7.0,8],[-6.93,14],[-6.85,8],[-6.75,15],[-6.62,6],[-6.55,9],[-6.5,8],[-6.4,5],[-6.3,1],[-6.15,0.3],[-5.8,1.2],[-5.5,2.0],[-5.2,2.0],[-4.9,0.8],[-4.6,1.5],[-4.3,0.5],[-3.5,0.5],[-2.5,0.5],[-1.6,0.8],[-1.2,1.0],[-0.6,0.5],[0,0],[7,0],[8,0.3],[10,0.3],[12,0.3],[12.5,0],[15,0]];
const R_Cdd_r: P[] = [[-10,0],[-7.25,0],[-7.1,3],[-6.95,20],[-6.84,35],[-6.7,22],[-6.6,10],[-6.5,22],[-6.45,28],[-6.33,20],[-6.24,2],[-6.15,0.3],[-5.8,1.5],[-5.5,2.5],[-5.2,2.0],[-4.9,0.8],[-4.6,1.5],[-4.3,0.5],[-3.5,0.5],[-2.5,0.5],[-1.6,0.8],[-1.2,1.0],[-0.6,0.5],[0,0],[7,0],[8,0.3],[10,0.3],[12,0.3],[12.5,0],[15,0]];
const R_Cdd_b: P[] = [[-10,0],[-7.25,0],[-7.1,5],[-6.95,25],[-6.84,35],[-6.6,25],[-6.5,22],[-6.33,30],[-6.2,5],[-6.15,0.3],[-5.8,1.5],[-5.5,2.5],[-5.2,2.0],[-4.9,0.8],[-4.63,3.5],[-4.5,0.5],[-3.5,0.6],[-2.5,0.6],[-1.6,0.8],[-1.2,1.0],[-0.6,0.5],[0,0],[7,0],[8,0.3],[10,0.3],[12,0.3],[12.5,0],[15,0]];

const R_Zns_k: P[] = [[-10,0],[-7.2,0],[-7.0,0.2],[-6.8,0.15],[-6.5,0.1],[-6.2,0.05],[-6.0,0],[-5.9,0.5],[-5.85,2.55],[-5.7,1.8],[-5.55,1.3],[-5.28,0.8],[-5.1,1.2],[-4.9,0.6],[-4.7,0.2],[-4.42,0.2],[-4.33,0.5],[-4.15,0.2],[-4.0,0.8],[-3.81,1.85],[-3.7,1.5],[-3.64,1.7],[-3.5,1.1],[-3.38,1.2],[-3.1,0.8],[-2.6,0.55],[-2.1,0.5],[-1.6,0.3],[-0.9,0.15],[-0.25,0],[0,0],[2,0.1],[3,0.2],[4,0.4],[5.0,0.6],[5.5,0.8],[6.0,0.85],[6.5,0.9],[7.0,0.75],[7.3,0.7],[7.6,0.5],[7.8,1.2],[8.0,2.0],[8.2,3.0],[8.3,3.55],[8.45,3.0],[8.6,1.5],[8.8,0.8],[9.1,0.5],[9.5,0.5],[10.0,0.7],[10.5,0.75],[11.0,0.6],[11.5,0.45],[12.0,0.3],[12.5,0.1],[12.9,0],[15,0]];
const R_Zns_r: P[] = [[-10,0],[-7.2,0],[-7.0,0.4],[-6.8,0.3],[-6.5,0.1],[-6.2,0.05],[-6.0,0],[-5.72,0],[-5.6,2.05],[-5.45,1.3],[-5.28,1.0],[-5.1,0.9],[-4.85,0.3],[-4.5,0.2],[-4.33,0.4],[-4.15,0.3],[-3.9,1.3],[-3.64,1.55],[-3.45,1.0],[-3.35,1.0],[-3.04,0.7],[-2.17,0.45],[-1.6,0.3],[-0.8,0.1],[-0.25,0],[0,0],[2,0.1],[3,0.2],[4,0.4],[5.0,0.6],[5.5,0.75],[6.0,0.85],[6.5,0.8],[7.0,0.7],[7.3,0.6],[7.5,1.0],[7.75,2.0],[7.95,2.9],[8.1,2.0],[8.3,2.3],[8.5,1.5],[8.8,0.7],[9.1,0.5],[9.5,0.5],[10.0,0.7],[10.3,0.8],[10.5,0.6],[11.0,0.6],[11.5,0.4],[12.0,0.25],[12.5,0.1],[12.8,0],[15,0]];
const R_Zns_b: P[] = [[-10,0],[-7.2,0],[-7.0,0.4],[-6.8,0.3],[-6.5,0.1],[-6.2,0.05],[-6.0,0],[-5.65,0],[-5.55,1.3],[-5.35,0.85],[-5.1,0.85],[-4.76,0.2],[-4.25,0.2],[-4.0,0.9],[-3.73,1.4],[-3.55,1.0],[-3.35,1.7],[-3.2,0.9],[-3.04,0.7],[-2.34,0.45],[-1.6,0.3],[-0.8,0.1],[-0.25,0],[0,0],[2,0.1],[3,0.2],[4,0.4],[5.0,0.6],[5.5,0.75],[6.0,0.8],[6.5,0.75],[7.0,0.7],[7.3,0.6],[7.5,1.2],[7.7,1.8],[7.9,2.1],[8.1,1.5],[8.25,1.3],[8.4,1.8],[8.6,1.2],[8.8,0.5],[9.1,0.45],[9.5,0.5],[10.0,0.7],[10.5,0.65],[11.0,0.5],[11.5,0.4],[12.0,0.2],[12.5,0.05],[12.7,0],[15,0]];

const R_Znp_k: P[] = [[-10,0],[-7.2,0],[-6.93,0.12],[-6.5,0.08],[-6.24,0.05],[-6.1,0],[-5.98,0.5],[-5.72,0.55],[-5.37,0.8],[-5.11,1.1],[-4.94,0.7],[-4.85,0.4],[-4.68,0.05],[-4.4,0.05],[-4.0,0.1],[-3.73,0.25],[-3.4,0.35],[-3.04,0.35],[-2.69,0.4],[-2.34,0.7],[-2.09,1.2],[-1.83,1.05],[-1.57,1.1],[-1.35,1.6],[-1.17,1.3],[-0.9,0.8],[-0.62,0.5],[-0.28,0.2],[-0.02,0],[2,0.05],[3,0.1],[4,0.2],[5,0.4],[6,0.45],[6.5,0.5],[7,0.5],[7.5,0.7],[7.9,1.25],[8.2,1.0],[8.5,0.6],[9.0,0.8],[9.5,0.9],[9.8,1.0],[10.2,1.2],[10.5,1.6],[10.8,1.5],[11.1,1.95],[11.3,1.6],[11.6,1.7],[11.9,1.6],[12.2,1.2],[12.5,0.5],[12.8,0.1],[13.0,0],[15,0]];
const R_Znp_r: P[] = [[-10,0],[-7.2,0],[-6.93,0.12],[-6.5,0.08],[-6.24,0.05],[-6.1,0],[-5.72,0.02],[-5.55,0.3],[-5.37,0.6],[-5.11,1.0],[-4.94,0.6],[-4.8,0.2],[-4.68,0.05],[-4.4,0.05],[-4.0,0.1],[-3.73,0.25],[-3.4,0.4],[-3.04,0.35],[-2.69,0.38],[-2.34,0.65],[-2.09,1.05],[-1.83,1.05],[-1.57,1.0],[-1.31,1.4],[-1.17,1.3],[-0.9,0.85],[-0.62,0.5],[-0.28,0.15],[-0.02,0],[2,0.05],[3,0.1],[4,0.2],[5,0.4],[6,0.45],[6.5,0.45],[7,0.5],[7.5,0.7],[7.9,1.35],[8.2,1.1],[8.5,0.6],[9.0,0.75],[9.5,0.9],[9.8,1.0],[10.2,1.3],[10.65,2.05],[10.9,1.5],[11.1,1.5],[11.4,1.7],[11.7,1.6],[12.0,1.3],[12.3,0.8],[12.6,0.3],[12.9,0],[15,0]];
const R_Znp_b: P[] = [[-10,0],[-7.2,0],[-6.93,0.1],[-6.5,0.1],[-6.24,0.05],[-6.1,0],[-5.63,0],[-5.46,0.3],[-5.2,0.6],[-5.11,0.75],[-4.94,0.5],[-4.8,0.1],[-4.63,0.15],[-4.4,0.05],[-4.0,0.1],[-3.73,0.25],[-3.5,0.3],[-3.31,0.55],[-3.1,0.35],[-2.69,0.35],[-2.34,0.6],[-2.09,0.9],[-1.83,0.85],[-1.66,0.95],[-1.45,1.0],[-1.17,1.15],[-0.9,0.75],[-0.62,0.45],[-0.28,0.15],[-0.02,0],[2,0.05],[3,0.1],[4,0.2],[5,0.35],[6,0.4],[6.5,0.45],[7,0.45],[7.5,0.65],[7.9,1.15],[8.2,0.9],[8.5,0.5],[9.0,0.7],[9.5,0.8],[9.8,0.9],[10.2,1.2],[10.5,1.6],[10.8,1.2],[11.0,1.9],[11.2,1.3],[11.5,1.2],[11.8,1.5],[12.0,1.3],[12.3,0.5],[12.6,0.05],[12.8,0],[15,0]];

const R_Znd_k: P[] = [[-10,0],[-7.3,0],[-7.0,2],[-6.6,2],[-6.3,1],[-6.1,0],[-6.0,22],[-5.7,24],[-5.4,35],[-5.15,45],[-4.95,30],[-4.8,10],[-4.7,5],[-4.5,30],[-4.3,112],[-4.2,40],[-4.05,5],[-3.8,10],[-3.4,8],[-2.7,5],[-1.95,5],[-1.1,7],[-0.5,4],[-0.1,2],[0,0],[7,0],[8,1],[10,1],[12,1],[12.5,0],[15,0]];
const R_Znd_r: P[] = [[-10,0],[-7.3,0],[-7.0,2],[-6.6,2],[-6.3,1],[-6.1,0],[-5.8,0],[-5.7,20],[-5.45,30],[-5.2,43],[-5.0,43],[-4.85,20],[-4.7,8],[-4.5,20],[-4.3,60],[-4.15,112],[-4.05,30],[-3.95,5],[-3.8,12],[-3.4,9],[-2.7,5],[-1.95,5],[-1.1,7],[-0.5,4],[-0.1,2],[0,0],[7,0],[8,1],[10,1],[12,1],[12.5,0],[15,0]];
const R_Znd_b: P[] = [[-10,0],[-7.3,0],[-7.0,2],[-6.6,2],[-6.3,1],[-6.1,0],[-5.8,0],[-5.6,20],[-5.35,35],[-5.15,47],[-4.95,30],[-4.8,8],[-4.7,20],[-4.55,72],[-4.45,50],[-4.3,30],[-4.15,5],[-3.8,8],[-3.6,12],[-3.4,7],[-2.7,4],[-1.95,5],[-1.1,6],[-0.5,3],[-0.1,1],[0,0],[7,0],[8,1],[10,1],[12,1],[12.5,0],[15,0]];

const L_series = [
  [L_Os_k, L_Os_r, L_Os_b], [L_Op_k, L_Op_r, L_Op_b], [L_Cds_k, L_Cds_r, L_Cds_b], [L_Cdp_k, L_Cdp_r, L_Cdp_b],
  [L_Cdd_k, L_Cdd_r, L_Cdd_b], [L_Zns_k, L_Zns_r, L_Zns_b], [L_Znp_k, L_Znp_r, L_Znp_b], [L_Znd_k, L_Znd_r, L_Znd_b],
];
const R_series = [
  [R_Os_k, R_Os_r, R_Os_b], [R_Op_k, R_Op_r, R_Op_b], [R_Cds_k, R_Cds_r, R_Cds_b], [R_Cdp_k, R_Cdp_r, R_Cdp_b],
  [R_Cdd_k, R_Cdd_r, R_Cdd_b], [R_Zns_k, R_Zns_r, R_Zns_b], [R_Znp_k, R_Znp_r, R_Znp_b], [R_Znd_k, R_Znd_r, R_Znd_b],
];

// ---------------- layout (pixels) ----------------
const BOTTOM = 840;
const COLS = [
  {
    left: 0, width: 580,
    tops: [17, 119, 223, 325, 428, 531, 634, 737],
    ranges: [[-0.044, 0.6], [-0.96, 10.07], [-0.046, 0.542], [-0.098, 0.496], [-2.3, 27.7], [-0.27, 2.24], [-0.114, 1.19], [-10.1, 84.6]],
    labels: [[565, 47], [567, 151], [568, 253], [573, 353], [570, 460], [568, 563], [568, 668], [568, 777]],
    tagPos: [172, 47],
    ticks: L_ticks, dec: L_dec, series: L_series,
  },
  {
    left: 579, width: 584,
    tops: [17, 119, 222, 326, 427, 531, 633, 737],
    ranges: [[-0.043, 0.5], [-1.95, 18.1], [-0.105, 1.105], [-0.088, 0.898], [-4.8, 40.4], [-0.56, 4.19], [-0.32, 2.42], [-20, 138.5]],
    labels: [[1147, 47], [1148, 151], [1150, 255], [1155, 350], [1148, 460], [1143, 565], [1150, 668], [1148, 777]],
    tagPos: [702, 43],
    ticks: R_ticks, dec: R_dec, series: R_series,
  },
];
const PAD = 12;
const COLORS = ["#000000", "#ff0000", "#0000ff"];

export default function App() {
  const refs = useRef<(HTMLCanvasElement | null)[]>([]);

  useEffect(() => {
    const charts: Chart[] = [];
    COLS.forEach((col, ci) => {
      for (let pi = 0; pi < 8; pi++) {
        const canvas = refs.current[ci * 8 + pi];
        if (!canvas) continue;
        const isBottom = pi === 7;
        const top = col.tops[pi];
        const canvasTop = top - PAD;
        const [yMin, yMax] = col.ranges[pi];
        const tickVals = col.ticks[pi];
        const dec = col.dec[pi];
        const [k, r, b] = col.series[pi];
        const label = orbitals[pi];
        const [lx, ly] = col.labels[pi];
        const tag = pi === 0 ? methods[ci] : null;
        const [tx, ty] = col.tagPos;
        const mk = (pts: P[], color: string) => ({
          data: pts.map(([x, y]) => ({ x, y })),
          borderColor: color,
          borderWidth: 1.3,
          pointRadius: 0,
          fill: false,
          tension: 0,
        });
        const deco = {
          id: "deco" + ci + pi,
          beforeDatasetsDraw(chart: any) {
            const { ctx, chartArea: a, scales } = chart;
            const x0 = Math.round(scales.x.getPixelForValue(0)) + 0.5;
            ctx.save();
            ctx.strokeStyle = "#808080";
            ctx.lineWidth = 1;
            ctx.setLineDash([2, 2]);
            ctx.beginPath();
            ctx.moveTo(x0, a.top);
            ctx.lineTo(x0, a.bottom);
            ctx.stroke();
            ctx.restore();
          },
          afterDatasetsDraw(chart: any) {
            const { ctx, chartArea: a } = chart;
            ctx.save();
            ctx.strokeStyle = "#3c3c3c";
            ctx.lineWidth = 1.6;
            ctx.strokeRect(a.left, a.top, a.right - a.left, a.bottom - a.top);
            ctx.fillStyle = "#000";
            ctx.textBaseline = "middle";
            ctx.textAlign = "right";
            ctx.font = `bold 27px ${FONT}`;
            ctx.fillText(label, lx - col.left, ly - canvasTop);
            if (tag) {
              ctx.textAlign = "left";
              ctx.font = `bold 26px ${FONT}`;
              ctx.fillText(tag, tx - col.left, ty - canvasTop);
            }
            ctx.restore();
          },
        };
        const tickFont = { family: FONT, size: 16, weight: "bold" as const };
        const chart = new Chart(canvas, {
          type: "line",
          data: { datasets: [mk(b, COLORS[2]), mk(r, COLORS[1]), mk(k, COLORS[0])] as any },
          options: {
            animation: false,
            responsive: false,
            maintainAspectRatio: false,
            devicePixelRatio: 1,
            events: [],
            layout: { padding: { top: PAD, bottom: isBottom ? 0 : PAD, left: 0, right: 2 } },
            plugins: { legend: { display: false }, tooltip: { enabled: false } },
            scales: {
              x: {
                type: "linear",
                min: -10,
                max: 15,
                display: isBottom,
                afterFit: (s: any) => { if (isBottom) s.height = 908 - BOTTOM; },
                afterBuildTicks: (s: any) => { s.ticks = energyTicks.map((v) => ({ value: v })); },
                ticks: { font: tickFont, color: "#000", padding: 3, autoSkip: false, maxRotation: 0, callback: (v: any) => String(v) },
                grid: { drawOnChartArea: false, drawTicks: true, tickLength: 5, color: "#333" },
                border: { display: false },
                title: { display: true, text: "Energy (eV)", color: "#000", font: { family: FONT, size: 28, weight: "bold" }, padding: { top: 0, bottom: 4 } },
              },
              y: {
                type: "linear",
                min: yMin,
                max: yMax,
                afterFit: (s: any) => { s.width = 100; },
                afterBuildTicks: (s: any) => { s.ticks = tickVals.map((v) => ({ value: v })); },
                ticks: { font: tickFont, color: "#000", padding: 4, autoSkip: false, callback: (v: any) => Number(v).toFixed(dec) },
                grid: { drawOnChartArea: false, drawTicks: true, tickLength: 5, color: "#333" },
                border: { display: false },
              },
            },
          } as any,
          plugins: [deco],
        });
        charts.push(chart);
      }
    });
    return () => charts.forEach((c) => c.destroy());
  }, []);

  const canvases: React.ReactNode[] = [];
  COLS.forEach((col, ci) => {
    for (let pi = 0; pi < 8; pi++) {
      const top = col.tops[pi] - PAD;
      const bottom = pi === 7 ? 908 : col.tops[pi + 1] + PAD;
      const h = bottom - top;
      canvases.push(
        <canvas
          key={ci * 8 + pi}
          ref={(el) => { refs.current[ci * 8 + pi] = el; }}
          width={col.width}
          height={h}
          style={{ position: "absolute", left: col.left, top, width: col.width, height: h }}
        />
      );
    }
  });

  return (
    <div style={{ position: "fixed", left: 0, top: 0, width: 1157, height: 908, overflow: "hidden", background: "#fff" }}>
      {canvases}
      <div
        style={{
          position: "absolute",
          left: 28,
          top: 416,
          width: 500,
          transform: "translate(-50%, -50%) rotate(-90deg) scale(1, 1.3)",
          textAlign: "center",
          fontFamily: FONT,
          fontWeight: "bold",
          fontSize: 28,
          lineHeight: "32px",
          whiteSpace: "nowrap",
          color: "#000",
        }}
      >
        PDOS (eectrons/eV)
      </div>
    </div>
  );
}
